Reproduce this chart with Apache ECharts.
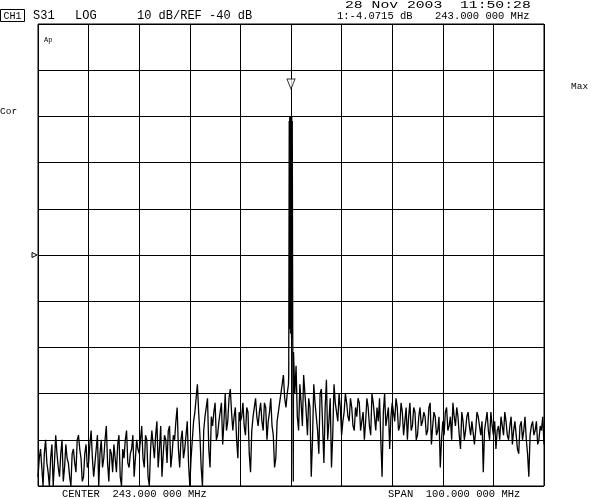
<!DOCTYPE html>
<html>
<head>
<meta charset="utf-8">
<script src="https://cdn.jsdelivr.net/npm/echarts@6/dist/echarts.min.js"></script>
<style>
html,body{margin:0;padding:0;background:#fff;}
#c{width:591px;height:498px;}
</style>
</head>
<body>
<div id="c"></div>
<script>
// ---- data ----
const centerMHz = 243;
const spanMHz = 100;
const refLevelDb = -40;
const dbPerDiv = 10;
const traceStartMHz = 193;
const traceStepMHz = 0.5;
// levels at 193.0, 193.5, ... 293.0 MHz
const traceDb = [
  -88, -82, -90, -80, -87, -84, -90, -79, -86, -83, -89, -81, -85, -90, -82, -87, -79, -84, -88, -81,
  -85, -78, -88, -82, -90, -80, -84, -77, -89, -83, -81, -87, -79, -90, -84, -78, -86, -82, -88, -80,
  -83, -77, -86, -80, -90, -78, -84, -76, -82, -88, -79, -85, -77, -83, -80, -73, -86, -78, -82, -76,
  -90, -80, -74, -68, -79, -90, -75, -71, -86, -77, -72, -79, -74, -81, -70, -76, -69, -78, -73, -84,
  -76, -72, -79, -74, -87, -75, -71, -77, -72, -78, -73, -76, -71, -79, -84, -74, -70, -66, -73, -68,
  -10, -61, -64, -78, -72, -66, -74, -71, -88, -68, -75, -83, -69, -85, -67, -76, -86, -68, -74, -70,
  -79, -74, -72, -76, -73, -78, -75, -72, -76, -80, -71, -77, -70, -75, -73, -71, -88, -70, -75, -82,
  -72, -76, -73, -77, -74, -76, -80, -72, -77, -74, -79, -73, -76, -75, -78, -72, -77, -75, -78, -86,
  -76, -74, -78, -75, -72, -77, -75, -82, -76, -78, -74, -79, -76, -78, -75, -79, -87, -76, -78, -74,
  -79, -82, -77, -75, -79, -76, -80, -75, -78, -79, -83, -76, -78, -80, -88, -77, -79, -76, -80, -78,
  -81
];
// levels at 193.25, 193.75, ... 292.75 MHz
const traceMidDb = [
  -84, -86, -83, -85, -90, -81, -85, -83, -88, -80, -86, -84, -88, -83, -85, -80, -82, -89, -83, -86,
  -81, -84, -85, -79, -83, -86, -80, -85, -82, -87, -84, -81, -88, -82, -80, -85, -83, -79, -84, -82,
  -80, -84, -79, -88, -82, -81, -79, -86, -77, -83, -80, -78, -86, -79, -76, -82, -80, -84, -79, -85,
  -84, -76, -71, -74, -86, -78, -73, -82, -75, -74, -80, -76, -72, -76, -78, -71, -74, -75, -80, -74,
  -75, -77, -73, -83, -78, -73, -75, -74, -76, -72, -80, -74, -77, -86, -76, -72, -68, -71, -70, -60,
  -60, -70, -75, -68, -77, -70, -79, -73, -80, -72, -78, -70, -77, -73, -80, -71, -79, -72, -76, -73,
  -76, -70, -75, -71, -77, -73, -71, -78, -74, -76, -73, -79, -72, -78, -76, -80, -74, -77, -73, -75,
  -74, -71, -78, -72, -79, -73, -75, -78, -73, -80, -75, -77, -74, -79, -73, -81, -74, -79, -75, -80,
  -79, -73, -77, -80, -75, -73, -79, -74, -80, -75, -77, -76, -81, -74, -77, -76, -78, -74, -80, -77,
  -76, -78, -80, -77, -74, -79, -77, -81, -76, -82, -77, -80, -75, -83, -79, -76, -78, -81, -77, -75
];
// the carrier at the centre, drawn in finer steps
const peakFreqMHz = [242.55, 242.65, 242.7, 242.75, 242.8, 242.85, 242.9, 242.95, 243.0, 243.05, 243.1, 243.15, 243.2, 243.25, 243.35, 243.45];
const peakDb = [-66, -11, -55, -10, -56, -10, -57, -10, -55, -10, -58, -10, -56, -11, -60, -89];
const markerFreqMHz = 243.0;
const markerDb = -4.0715;

const headerTexts = ['S31', 'LOG', '10 dB/REF -40 dB'];
const dateText = '28 Nov 2003  11:50:28';
const markerText = '1:-4.0715 dB';
const markerFreqText = '243.000 000 MHz';
const centerText = 'CENTER  243.000 000 MHz';
const spanText = 'SPAN  100.000 000 MHz';

// ---- build ----
let pts = [];
traceDb.forEach((v, i) => pts.push([traceStartMHz + i * traceStepMHz, v]));
traceMidDb.forEach((v, i) => pts.push([traceStartMHz + (i + 0.5) * traceStepMHz, v]));
pts = pts.filter(p => p[0] <= peakFreqMHz[0] - 0.01 || p[0] >= peakFreqMHz[peakFreqMHz.length - 1] + 0.01);
peakFreqMHz.forEach((f, i) => pts.push([f, peakDb[i]]));
pts.sort((a, b) => a[0] - b[0]);
pts = pts.map(p => [p[0] - centerMHz, p[1]]);

const half = spanMHz / 2;
const yMin = refLevelDb - 5 * dbPerDiv;
const yMax = refLevelDb + 5 * dbPerDiv;
const MONO = '"Liberation Mono", "DejaVu Sans Mono", monospace';

const chart = echarts.init(document.getElementById('c'), null, {renderer: 'canvas'});
chart.setOption({
  animation: false,
  backgroundColor: '#fff',
  grid: {left: 38, top: 24, width: 506, height: 462, show: true, borderColor: '#000', borderWidth: 1, backgroundColor: 'transparent'},
  xAxis: {
    type: 'value', min: -half, max: half, interval: spanMHz / 10,
    axisLine: {show: false}, axisTick: {show: false}, axisLabel: {show: false},
    splitLine: {show: true, lineStyle: {color: '#000', width: 1}}
  },
  yAxis: {
    type: 'value', min: yMin, max: yMax, interval: dbPerDiv,
    axisLine: {show: false}, axisTick: {show: false}, axisLabel: {show: false},
    splitLine: {show: true, lineStyle: {color: '#000', width: 1}}
  },
  series: [
    {
      type: 'line', data: pts, showSymbol: false, symbol: 'none',
      lineStyle: {color: '#000', width: 1.3}, clip: true, z: 3
    },
    {
      type: 'scatter', data: [[markerFreqMHz - centerMHz, markerDb]],
      symbol: 'path://M0,0 L10,0 L5,12 Z', symbolSize: [8, 10], symbolOffset: [0, -5],
      itemStyle: {color: '#fff', borderColor: '#000', borderWidth: 1}, z: 4
    }
  ]
});

const refPx = chart.convertToPixel({gridIndex: 0}, [-half, refLevelDb]);
const txt = (x, y, text, size, extra) => Object.assign({
  type: 'text', x: x, y: y,
  style: {text: text, font: size + 'px ' + MONO, fill: '#000', textAlign: 'left', textVerticalAlign: 'middle'}
}, extra || {});

chart.setOption({
  graphic: [
    {type: 'rect', shape: {x: 0.5, y: 9.5, width: 24, height: 12}, style: {fill: 'none', stroke: '#000', lineWidth: 1}},
    {type: 'text', x: 12.5, y: 16, style: {text: 'CH1', font: '10px ' + MONO, fill: '#000', textAlign: 'center', textVerticalAlign: 'middle'}},
    txt(33, 16, headerTexts[0], 12),
    txt(75, 16, headerTexts[1], 12),
    txt(137, 16, headerTexts[2], 12),
    txt(345, 5, dateText, 11, {scaleX: 1.34}),
    txt(337, 16.5, markerText, 10.5),
    txt(435, 16.5, markerFreqText, 10.5),
    txt(0, 111, 'Cor', 9.5),
    txt(571, 86, 'Max', 9.5),
    txt(44, 40, 'Ap', 7),
    txt(62, 494, centerText, 10.5),
    txt(388, 494, spanText, 10.5),
    {type: 'polygon', shape: {points: [[refPx[0] - 6, refPx[1] - 2.5], [refPx[0] - 6, refPx[1] + 2.5], [refPx[0] - 1, refPx[1]]]},
     style: {fill: '#fff', stroke: '#000', lineWidth: 1}}
  ]
});
</script>
</body>
</html>
